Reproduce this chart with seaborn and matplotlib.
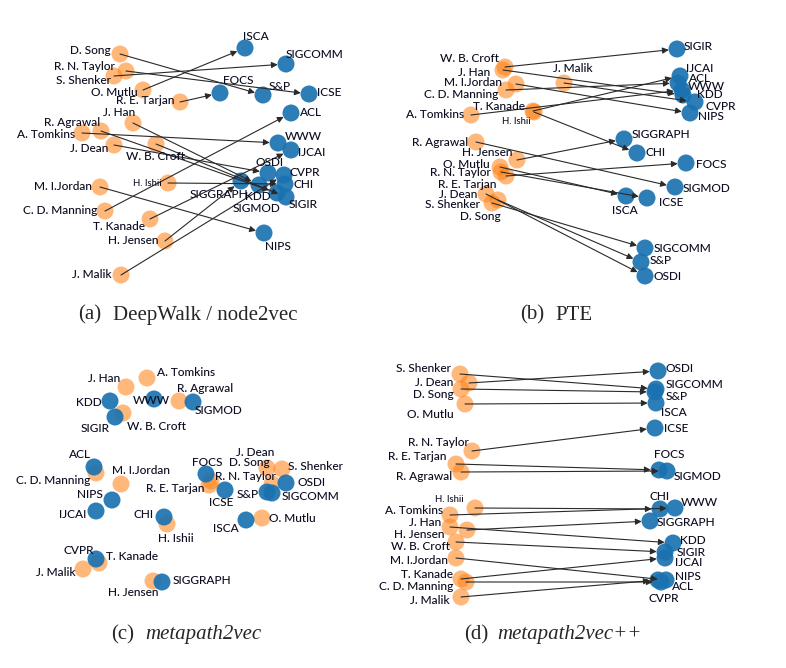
import matplotlib
matplotlib.use("Agg")
import matplotlib.pyplot as plt
import seaborn as sns

# author i publishes mainly at venue i
authors = ["D. Song", "R. N. Taylor", "S. Shenker", "O. Mutlu", "R. E. Tarjan",
           "J. Han", "R. Agrawal", "A. Tomkins", "J. Dean", "W. B. Croft",
           "H. Ishii", "M. I.Jordan", "C. D. Manning", "T. Kanade", "H. Jensen",
           "J. Malik"]
venues = ["S&P", "ICSE", "SIGCOMM", "ISCA", "FOCS", "KDD", "SIGMOD", "WWW",
          "OSDI", "SIGIR", "CHI", "NIPS", "ACL", "IJCAI", "SIGGRAPH", "CVPR"]

# 2D projections (image pixel units)
a_author_x = [120, 126, 114, 143, 180, 133, 101, 82, 114, 156, 168, 100, 105, 150, 165, 121]
a_author_y = [54, 71, 76, 90, 102, 123, 131, 133, 145, 144, 183, 187, 211, 219, 241, 275]
a_venue_x = [263, 309, 286, 245, 220, 259, 277, 278, 268, 286, 285, 264, 291, 291, 241, 284]
a_venue_y = [95, 94, 64, 48, 93, 185, 193, 143, 173, 197, 184, 233, 113, 150, 181, 175]

b_author_x = [498, 501, 492, 500, 506, 503, 476, 471, 486, 505, 534, 516, 506, 533, 517, 564]
b_author_y = [200, 172, 203, 167, 176, 70, 142, 115, 194, 67, 112, 84, 90, 111, 160, 83]
b_venue_x = [641, 647, 645, 626, 686, 683, 675, 682, 645, 677, 637, 690, 678, 680, 624, 695]
b_venue_y = [262, 198, 248, 196, 163, 95, 187, 90, 276, 49, 153, 113, 83, 76, 139, 102]

c_author_x = [272, 211, 282, 262, 209, 126, 179, 147, 267, 123, 167, 121, 96, 99, 153, 83]
c_author_y = [484, 481, 469, 518, 485, 387, 401, 378, 468, 413, 524, 484, 473, 563, 581, 569]
c_venue_x = [267, 225, 272, 246, 206, 110, 193, 154, 286, 115, 164, 112, 94, 96, 162, 96]
c_venue_y = [492, 490, 493, 520, 474, 401, 402, 399, 483, 417, 517, 500, 467, 511, 582, 559]

d_author_x = [461, 472, 460, 465, 456, 450, 461, 450, 469, 456, 475, 456, 466, 461, 467, 461]
d_author_y = [389, 451, 374, 404, 464, 527, 472, 515, 383, 542, 508, 558, 582, 579, 530, 597]
d_venue_x = [655, 655, 656, 656, 659, 673, 667, 675, 658, 665, 660, 666, 661, 665, 650, 658]
d_venue_y = [392, 428, 389, 403, 470, 543, 471, 508, 371, 552, 509, 580, 582, 558, 521, 580]

# label placement: name -> (dx, dy, ha), pixels, dy pointing down
a_labels = {
    "D. Song": (-9, -3, "right"), "R. N. Taylor": (-11, -5, "right"),
    "S. Shenker": (-3, 4, "right"), "O. Mutlu": (-5, 2, "right"),
    "R. E. Tarjan": (-6, -1, "right"), "J. Han": (-14, -11, "center"),
    "R. Agrawal": (-1, -9, "right"), "A. Tomkins": (-7, 1, "right"),
    "J. Dean": (-6, 3, "right"), "W. B. Croft": (-1, 13, "center"),
    "H. Ishii": (-6, 0, "right"), "M. I.Jordan": (-8, 0, "right"),
    "C. D. Manning": (-8, 0, "right"), "T. Kanade": (-5, 7, "right"),
    "H. Jensen": (-7, 0, "right"), "J. Malik": (-9, 0, "right"),
    "ISCA": (11, -11, "center"), "SIGCOMM": (0, -9, "left"),
    "FOCS": (3, -13, "left"), "S&P": (6, -8, "left"), "ICSE": (8, -2, "left"),
    "ACL": (9, 0, "left"), "WWW": (7, -6, "left"), "IJCAI": (7, 2, "left"),
    "OSDI": (2, -11, "center"), "CVPR": (6, -3, "left"), "CHI": (8, 0, "left"),
    "SIGGRAPH": (-22, 14, "center"), "KDD": (-1, 12, "center"),
    "SIGMOD": (-21, 15, "center"), "SIGIR": (3, 7, "left"), "NIPS": (14, 14, "center"),
}
b_labels = {
    "W. B. Croft": (-6, -9, "right"), "J. Han": (-13, 2, "right"),
    "J. Malik": (9, -15, "center"), "M. I.Jordan": (-14, -1, "right"),
    "C. D. Manning": (-8, 5, "right"), "T. Kanade": (-8, -4, "right"),
    "H. Ishii": (-18, 10, "center"), "A. Tomkins": (-7, -1, "right"),
    "R. Agrawal": (-8, 0, "right"), "H. Jensen": (-5, -7, "right"),
    "O. Mutlu": (-10, -3, "right"), "R. N. Taylor": (-10, 1, "right"),
    "R. E. Tarjan": (-10, 8, "right"), "J. Dean": (-9, 1, "right"),
    "S. Shenker": (-12, 2, "right"), "D. Song": (3, 17, "right"),
    "SIGIR": (7, -3, "left"), "IJCAI": (6, -8, "left"), "ACL": (11, -4, "left"),
    "WWW": (6, -3, "left"), "KDD": (14, -1, "left"), "CVPR": (10, 4, "left"),
    "NIPS": (8, 4, "left"), "SIGGRAPH": (8, -4, "left"), "CHI": (8, -1, "left"),
    "FOCS": (10, 1, "left"), "SIGMOD": (8, 1, "left"), "ISCA": (-1, 14, "center"),
    "ICSE": (12, 5, "left"), "SIGCOMM": (9, 1, "left"), "S&P": (9, -1, "left"),
    "OSDI": (9, 1, "left"),
}
c_labels = {
    "J. Han": (-22, -9, "center"), "A. Tomkins": (10, -5, "left"),
    "R. Agrawal": (-2, -13, "left"), "W. B. Croft": (4, 13, "left"),
    "C. D. Manning": (-6, 7, "right"), "M. I.Jordan": (20, -14, "center"),
    "H. Ishii": (9, 14, "center"), "T. Kanade": (7, -6, "left"),
    "J. Malik": (-7, 4, "right"), "H. Jensen": (-20, 12, "center"),
    "J. Dean": (-12, -16, "center"), "D. Song": (-23, -21, "center"),
    "S. Shenker": (6, -3, "left"), "R. N. Taylor": (4, -5, "left"),
    "R. E. Tarjan": (-4, 4, "right"), "O. Mutlu": (7, 0, "left"),
    "KDD": (-8, 1, "right"), "WWW": (-3, 2, "center"), "SIGMOD": (2, 9, "left"),
    "SIGIR": (-5, 12, "right"), "ACL": (-14, -12, "center"), "NIPS": (-9, -5, "right"),
    "IJCAI": (-10, 4, "right"), "CHI": (-10, -3, "right"), "CVPR": (-17, -9, "center"),
    "SIGGRAPH": (11, -2, "left"), "FOCS": (1, -11, "center"), "ICSE": (-4, 13, "center"),
    "S&P": (-8, 3, "right"), "SIGCOMM": (10, 3, "left"), "OSDI": (11, 0, "left"),
    "ISCA": (-7, 8, "right"),
}
d_labels = {
    "S. Shenker": (-9, -5, "right"), "J. Dean": (-16, -1, "right"),
    "D. Song": (-7, 5, "right"), "O. Mutlu": (-11, 10, "right"),
    "R. N. Taylor": (-3, -8, "right"), "R. E. Tarjan": (-9, -7, "right"),
    "R. Agrawal": (-9, 5, "right"), "H. Ishii": (-11, -9, "right"),
    "A. Tomkins": (-7, -4, "right"), "J. Han": (-9, -4, "right"),
    "H. Jensen": (-22, 4, "right"), "W. B. Croft": (-6, 5, "right"),
    "M. I.Jordan": (-8, 2, "right"), "T. Kanade": (-8, -4, "right"),
    "C. D. Manning": (-13, 4, "right"), "J. Malik": (-11, 4, "right"),
    "OSDI": (7, -2, "left"), "SIGCOMM": (10, -4, "left"), "S&P": (11, 5, "left"),
    "ISCA": (5, 9, "left"), "ICSE": (9, 1, "left"), "FOCS": (10, -15, "center"),
    "SIGMOD": (7, 6, "left"), "CHI": (0, -12, "center"), "WWW": (6, -5, "left"),
    "SIGGRAPH": (7, 2, "left"), "KDD": (7, -2, "left"), "SIGIR": (12, 0, "left"),
    "IJCAI": (10, 5, "left"), "NIPS": (9, -3, "left"), "ACL": (11, 5, "left"),
    "CVPR": (6, 18, "center"),
}

W, H = 786, 668
fig = plt.figure(figsize=(W / 100, H / 100), dpi=100)
sns.set_style("white")
plt.rcParams["font.family"] = ["Lato", "DejaVu Sans"]

panels = [
    ((0, 393, 31, 290), a_author_x, a_author_y, a_venue_x, a_venue_y, a_labels, True),
    ((393, 786, 31, 290), b_author_x, b_author_y, b_venue_x, b_venue_y, b_labels, True),
    ((0, 393, 340, 612), c_author_x, c_author_y, c_venue_x, c_venue_y, c_labels, False),
    ((370, 786, 340, 612), d_author_x, d_author_y, d_venue_x, d_venue_y, d_labels, True),
]

for (x0, x1, y0, y1), ax_, ay_, vx_, vy_, labels, arrows in panels:
    ax = fig.add_axes([x0 / W, 1 - y1 / H, (x1 - x0) / W, (y1 - y0) / H])
    ax.patch.set_visible(False)
    sns.scatterplot(x=ax_, y=ay_, ax=ax, s=150, color="tab:orange", alpha=0.55,
                    edgecolor="none", linewidth=0, zorder=2)
    sns.scatterplot(x=vx_, y=vy_, ax=ax, s=150, color="#1b72b0", alpha=0.92,
                    edgecolor="none", linewidth=0, zorder=3)
    if arrows:
        for i in range(len(authors)):
            ax.annotate("", xy=(vx_[i], vy_[i]), xytext=(ax_[i], ay_[i]),
                        arrowprops=dict(arrowstyle="-|>", color="#2a2a2a", lw=0.8,
                                        shrinkA=0, shrinkB=6, mutation_scale=9),
                        zorder=4)
    names = authors + venues
    xs = list(ax_) + list(vx_)
    ys = list(ay_) + list(vy_)
    for name, x, y in zip(names, xs, ys):
        dx, dy, ha = labels[name]
        small = name == "H. Ishii" and arrows
        t = ax.annotate(name, xy=(x, y), xytext=(dx, -dy), textcoords="offset pixels",
                        ha=ha, va="center", fontsize=6.8 if small else 8.6,
                        fontweight="medium", color="#0c0c20", zorder=5,
                        annotation_clip=False)
        t.set_clip_on(True)
    ax.set_xlim(x0, x1)
    ax.set_ylim(y1, y0)
    ax.axis("off")

# sub-captions
cap = dict(family="Liberation Serif", fontsize=15, va="center")
captions = [
    (78, 315, "(a)", 113, "DeepWalk / node2vec", "normal"),
    (520, 315, "(b)", 555, "PTE", "normal"),
    (111, 635, "(c)", 145, "metapath2vec", "italic"),
    (464, 635, "(d)", 497, "metapath2vec++", "italic"),
]
for lx, cy, tag, tx, title, style in captions:
    fig.text(lx / W, 1 - cy / H, tag, ha="left", **cap)
    fig.text(tx / W, 1 - cy / H, title, ha="left", style=style, **cap)

fig.savefig("out.png", dpi=100)
